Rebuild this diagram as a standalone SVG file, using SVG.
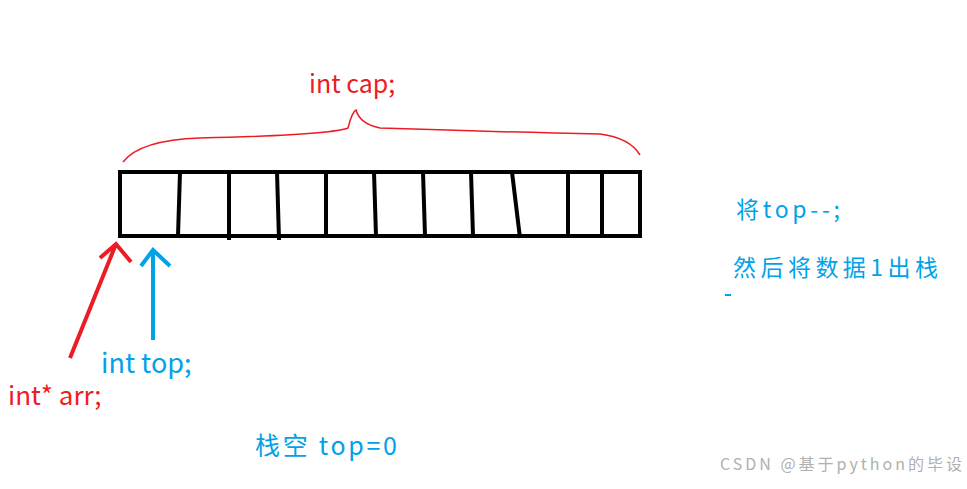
<svg xmlns="http://www.w3.org/2000/svg" width="967" height="489" viewBox="0 0 967 489">
<style>
.r{fill:#ed1c24}.b{fill:#00a2e8}
text{font-family:"Microsoft YaHei","Noto Sans CJK SC","Liberation Sans",sans-serif}
.box{fill:none;stroke:#000;stroke-width:4}
</style>
<rect width="967" height="489" fill="#fff"/>
<g id="array">
<rect class="box" x="120" y="172" width="520" height="64"/>
<path class="box" d="M180 172L178 236M229 172V240M277 172L279 240M326 172V236M374 172L376 236M423 172L425 236M471 172L473 236M512 172L520 238M568 172V236M602 172V236"/>
</g>
<g id="brace"><path d="M123 162Q140 140 200 138Q330 135 348 128Q352 112 356 110Q360 124 380 128Q500 132 600 134Q630 138 640 155" fill="none" stroke="#ed1c24" stroke-width="1.5"/></g>
<g id="connectors">
<path d="M70 358L116 244M100 258L116 244L131 262" fill="none" stroke="#ed1c24" stroke-width="4"/>
<path d="M153 340V252M141 266L153 250L170 266" fill="none" stroke="#00a2e8" stroke-width="4"/>
<path d="M725 295h6" stroke="#00a2e8" stroke-width="2"/>
</g>
<g id="labels" font-size="25">
<text class="r" x="309" y="93">int cap;</text>
<text class="b" x="101" y="373" font-size="27">int top;</text>
<text class="r" x="8" y="405" font-size="26">int* arr;</text>
<text class="b" x="255" y="455" textLength="142">栈空 top=0</text>
<text class="b" x="736" y="218" font-size="23" textLength="104">将top--;</text>
<text class="b" x="733" y="276" font-size="23" textLength="205">然后将数据1出栈</text>
<text x="720" y="470" font-size="16" fill="#b0b0b0" textLength="242">CSDN @基于python的毕设</text>
</g>
</svg>
